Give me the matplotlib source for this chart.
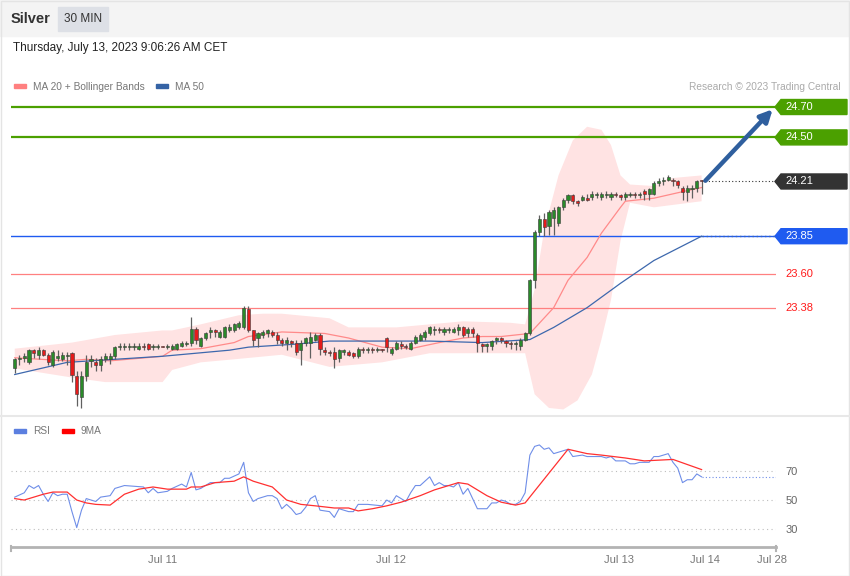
import numpy as np
import matplotlib.pyplot as plt
from matplotlib.patches import Rectangle, Polygon

plt.rcParams['font.family'] = ['Liberation Sans', 'DejaVu Sans']

# ---- data (30 min silver bars) ----
opens = [22.98, 23.04, 23.05, 23.02, 23.10, 23.07, 23.10, 23.07, 23.00, 23.05,
         23.04, 23.06, 23.08, 22.93, 22.79, 22.93, 23.03, 23.02, 23.00, 23.04,
         23.04, 23.06, 23.12, 23.12, 23.12, 23.12, 23.11, 23.13, 23.14, 23.12,
         23.12, 23.13, 23.12, 23.11, 23.11, 23.13, 23.14, 23.15, 23.24, 23.13,
         23.18, 23.22, 23.23, 23.19, 23.19, 23.23, 23.23, 23.25, 23.25, 23.37,
         23.23, 23.18, 23.20, 23.21, 23.22, 23.20, 23.17, 23.15, 23.16, 23.15,
         23.10, 23.15, 23.15, 23.17, 23.20, 23.10, 23.09, 23.09, 23.05, 23.09,
         23.09, 23.08, 23.06, 23.11, 23.10, 23.11, 23.10, 23.11, 23.18, 23.08,
         23.11, 23.14, 23.13, 23.11, 23.15, 23.17, 23.19, 23.21, 23.23, 23.24,
         23.22, 23.23, 23.22, 23.23, 23.25, 23.21, 23.24, 23.20, 23.14, 23.13,
         23.13, 23.17, 23.18, 23.16, 23.15, 23.14, 23.13, 23.17, 23.21, 23.56,
         23.88, 23.96, 23.92, 23.97, 23.94, 24.04, 24.09, 24.12, 24.08, 24.09,
         24.10, 24.11, 24.12, 24.11, 24.12, 24.11, 24.13, 24.12, 24.11, 24.12,
         24.13, 24.12, 24.15, 24.13, 24.13, 24.20, 24.21, 24.22, 24.22, 24.21,
         24.17, 24.14, 24.16, 24.17, 24.22]
closes = [23.04, 23.05, 23.06, 23.10, 23.08, 23.10, 23.07, 23.02, 23.09, 23.06,
          23.07, 23.07, 22.94, 22.81, 22.93, 23.02, 23.04, 23.00, 23.04, 23.06,
          23.06, 23.12, 23.13, 23.13, 23.13, 23.13, 23.13, 23.12, 23.11, 23.13,
          23.13, 23.12, 23.13, 23.13, 23.14, 23.15, 23.15, 23.24, 23.17, 23.18,
          23.21, 23.23, 23.22, 23.22, 23.25, 23.25, 23.27, 23.28, 23.38, 23.23,
          23.17, 23.21, 23.22, 23.23, 23.20, 23.17, 23.15, 23.17, 23.15, 23.09,
          23.15, 23.18, 23.19, 23.20, 23.11, 23.09, 23.08, 23.04, 23.10, 23.10,
          23.07, 23.06, 23.11, 23.10, 23.11, 23.10, 23.11, 23.10, 23.12, 23.11,
          23.15, 23.13, 23.12, 23.15, 23.19, 23.20, 23.22, 23.25, 23.24, 23.23,
          23.24, 23.24, 23.24, 23.25, 23.20, 23.24, 23.21, 23.15, 23.13, 23.14,
          23.16, 23.18, 23.17, 23.15, 23.14, 23.15, 23.17, 23.21, 23.56, 23.88,
          23.96, 23.91, 24.01, 24.02, 24.04, 24.09, 24.12, 24.08, 24.07, 24.11,
          24.09, 24.13, 24.13, 24.13, 24.13, 24.13, 24.12, 24.11, 24.13, 24.13,
          24.12, 24.13, 24.13, 24.16, 24.20, 24.21, 24.22, 24.24, 24.21, 24.19,
          24.14, 24.17, 24.17, 24.21, 24.21]
highs = [23.05, 23.07, 23.08, 23.11, 23.11, 23.12, 23.11, 23.08, 23.10, 23.10,
         23.09, 23.09, 23.09, 22.96, 22.96, 23.07, 23.07, 23.05, 23.06, 23.08,
         23.08, 23.13, 23.15, 23.15, 23.15, 23.15, 23.15, 23.15, 23.15, 23.14,
         23.14, 23.13, 23.14, 23.14, 23.15, 23.16, 23.16, 23.32, 23.25, 23.19,
         23.22, 23.25, 23.24, 23.23, 23.26, 23.27, 23.28, 23.29, 23.39, 23.39,
         23.23, 23.22, 23.23, 23.24, 23.23, 23.22, 23.18, 23.19, 23.17, 23.17,
         23.17, 23.19, 23.22, 23.21, 23.21, 23.12, 23.10, 23.12, 23.11, 23.11,
         23.10, 23.09, 23.12, 23.12, 23.12, 23.12, 23.12, 23.11, 23.19, 23.12,
         23.16, 23.16, 23.14, 23.16, 23.20, 23.21, 23.23, 23.26, 23.26, 23.25,
         23.25, 23.25, 23.25, 23.27, 23.26, 23.25, 23.25, 23.21, 23.15, 23.15,
         23.17, 23.19, 23.19, 23.17, 23.16, 23.16, 23.18, 23.22, 23.57, 23.89,
         23.99, 24.00, 24.02, 24.04, 24.05, 24.10, 24.13, 24.13, 24.09, 24.12,
         24.13, 24.15, 24.14, 24.14, 24.15, 24.14, 24.14, 24.13, 24.14, 24.14,
         24.14, 24.14, 24.16, 24.17, 24.21, 24.23, 24.24, 24.25, 24.23, 24.22,
         24.18, 24.19, 24.19, 24.22, 24.22]
lows = [22.95, 23.00, 23.02, 23.01, 23.05, 23.04, 23.06, 23.00, 22.99, 23.03,
        23.03, 23.00, 22.89, 22.73, 22.72, 22.90, 22.99, 22.96, 22.96, 23.02,
        23.01, 23.04, 23.10, 23.10, 23.10, 23.10, 23.10, 23.10, 23.10, 23.10,
        23.11, 23.12, 23.11, 23.10, 23.10, 23.12, 23.13, 23.13, 23.14, 23.12,
        23.17, 23.18, 23.19, 23.18, 23.18, 23.22, 23.22, 23.24, 23.24, 23.22,
        23.13, 23.12, 23.18, 23.19, 23.19, 23.14, 23.13, 23.10, 23.12, 23.07,
        23.00, 23.13, 23.05, 23.16, 23.07, 23.07, 23.06, 22.98, 23.02, 23.07,
        23.06, 23.05, 23.05, 23.08, 23.08, 23.08, 23.09, 23.09, 23.09, 23.07,
        23.10, 23.11, 23.11, 23.10, 23.14, 23.16, 23.17, 23.20, 23.20, 23.21,
        23.20, 23.21, 23.21, 23.20, 23.19, 23.19, 23.19, 23.09, 23.09, 23.09,
        23.10, 23.14, 23.15, 23.12, 23.11, 23.10, 23.10, 23.16, 23.20, 23.51,
        23.85, 23.85, 23.86, 23.86, 23.92, 24.02, 24.07, 24.06, 24.05, 24.08,
        24.08, 24.09, 24.10, 24.09, 24.10, 24.09, 24.11, 24.09, 24.09, 24.11,
        24.10, 24.10, 24.09, 24.09, 24.12, 24.18, 24.19, 24.21, 24.18, 24.17,
        24.09, 24.08, 24.10, 24.14, 24.13]

# moving averages (bar index, value)
ma20_bar = [0, 11, 15, 20, 31, 33, 39, 46, 49, 56, 65, 70, 77, 83, 89, 94, 98, 102,
            108, 113, 116, 120, 123, 127, 128, 134, 141, 144]
ma20_val = [23.05, 23.03, 23.04, 23.03, 23.06, 23.10, 23.11, 23.15, 23.19, 23.22, 23.21,
            23.18, 23.12, 23.11, 23.15, 23.18, 23.19, 23.19, 23.21, 23.38, 23.56, 23.71,
            23.87, 24.04, 24.08, 24.10, 24.15, 24.17]
ma50_bar = [0, 11, 31, 45, 49, 59, 66, 87, 98, 108, 113, 120, 127, 134, 144]
ma50_val = [22.94, 23.02, 23.06, 23.10, 23.12, 23.14, 23.16, 23.16, 23.15, 23.17,
            23.25, 23.38, 23.54, 23.69, 23.85]

# bollinger bands
bb_up_bar = [0, 12, 21, 31, 33, 39, 47, 52, 56, 66, 70, 80, 87, 94, 104, 107, 109, 111,
             114, 117, 120, 123, 125, 127, 129, 134, 137, 144]
bb_up_val = [23.11, 23.15, 23.20, 23.23, 23.23, 23.27, 23.33, 23.34, 23.34, 23.31, 23.25,
             23.25, 23.27, 23.29, 23.28, 23.27, 23.50, 23.89, 24.25, 24.48, 24.57, 24.55,
             24.45, 24.25, 24.19, 24.18, 24.23, 24.25]
bb_lo_bar = [0, 12, 19, 31, 33, 39, 46, 56, 66, 77, 87, 98, 107, 109, 112, 115, 118, 121,
             123, 125, 127, 129, 134, 144]
bb_lo_val = [22.98, 22.92, 22.89, 22.89, 22.97, 23.02, 23.04, 23.07, 22.99, 23.02, 23.08,
             23.08, 23.08, 22.81, 22.72, 22.71, 22.77, 22.94, 23.17, 23.43, 23.82, 24.07,
             24.04, 24.08]

# RSI and its 9 period MA
rsi_bar = [0, 2, 3, 4, 5, 6, 7, 8, 9, 10, 11, 12, 13, 14, 15, 17, 18, 20, 21, 23, 27, 28,
           29, 30, 32, 33, 35, 36, 37, 38, 39, 41, 42, 43, 44, 45, 47, 48, 49, 50, 51, 53,
           54, 55, 56, 57, 58, 59, 60, 61, 62, 63, 64, 66, 67, 68, 70, 71, 72, 74, 77, 78,
           79, 80, 81, 82, 83, 84, 85, 87, 88, 89, 90, 91, 92, 93, 94, 95, 96, 97, 99, 100,
           101, 102, 103, 104, 105, 106, 107, 108, 109, 110, 111, 112, 113, 115, 116, 117,
           119, 120, 121, 123, 124, 125, 126, 128, 129, 130, 131, 133, 134, 135, 137, 138,
           139, 140, 141, 142, 143, 144]
rsi_val = [52, 55, 60, 58, 60, 54, 49, 55, 53, 54, 54, 42, 31, 43, 51, 49, 52, 53, 58, 60,
           59, 55, 58, 55, 56, 58, 61, 59, 69, 57, 58, 62, 62, 62, 65, 65, 68, 76, 55, 49,
           51, 53, 53, 51, 44, 47, 44, 40, 41, 45, 51, 53, 43, 42, 38, 44, 42, 42, 47, 47,
           46, 50, 48, 53, 51, 49, 55, 60, 60, 66, 60, 62, 60, 60, 59, 62, 54, 58, 51, 44,
           44, 48, 48, 50, 49, 47, 47, 49, 55, 81, 87, 88, 85, 86, 82, 84, 85, 80, 81, 80,
           80, 80, 79, 80, 77, 77, 75, 75, 76, 76, 80, 80, 82, 76, 72, 62, 64, 64, 68, 66]
rsi_ma_bar = [0, 2, 4, 6, 8, 11, 13, 15, 17, 20, 23, 26, 29, 32, 36, 37, 39, 42, 46, 48,
              50, 54, 57, 60, 63, 67, 70, 72, 75, 78, 81, 85, 88, 91, 93, 95, 99, 102, 105,
              107, 116, 120, 123, 128, 132, 138, 144]
rsi_ma_val = [51, 50, 52, 54, 55.5, 55.5, 50, 48, 47, 46.5, 54, 57.5, 59, 57.5, 57.5, 59,
              59, 62, 63, 66, 63, 59, 50, 47, 46, 44.5, 44.5, 42.5, 44, 46, 48.5, 53, 57,
              60, 62, 61, 53, 48.5, 46.5, 48, 85, 82, 81, 79, 77, 78, 71]

levels = [24.70, 24.50, 24.21, 23.85, 23.60, 23.38]
level_colors = ['#4ba000', '#4ba000', '#333333', '#1f5bf0', '#ff4d4d', '#ff4d4d']

date_ticks = [30.9, 78.9, 126.7, 144.7, 158.8]
date_labels = ['Jul 11', 'Jul 12', 'Jul 13', 'Jul 14', 'Jul 28']

assert len(opens) == len(closes) == len(highs) == len(lows)
bars = np.arange(len(opens))
o, c, h, l = map(np.array, (opens, closes, highs, lows))

# ---- figure ----
W, H = 850, 576
fig = plt.figure(figsize=(W / 100, H / 100), dpi=100)

# overlay in pixel coordinates for the frame/header
bg = fig.add_axes([0, 0, 1, 1])
bg.set_xlim(0, W)
bg.set_ylim(H, 0)
bg.axis('off')
bg.add_patch(Rectangle((0, 0), W, 36, color='#f4f4f4', zorder=0))
bg.add_patch(Rectangle((0.5, 0.5), W - 1, H - 1, fill=False, ec='#e4e4e4', lw=1))
bg.plot([0, W], [416, 416], color='#e8e8e8', lw=1.5)
bg.text(11, 19, 'Silver', fontsize=10.5, fontweight='bold', color='#333333', va='center')
bg.add_patch(Rectangle((58, 7), 50, 24, color='#dde0e6'))
bg.text(83, 19, '30 MIN', fontsize=8.5, color='#333333', va='center', ha='center')
bg.text(13, 48, 'Thursday, July 13, 2023 9:06:26 AM CET', fontsize=8.5, color='#222222', va='center')
# legends
bg.add_patch(Rectangle((14, 84), 12, 4, color='#ff8080'))
bg.text(33, 86.5, 'MA 20 + Bollinger Bands', fontsize=7.3, color='#777777', va='center')
bg.add_patch(Rectangle((156, 84), 12, 4, color='#3563a5'))
bg.text(175, 86.5, 'MA 50', fontsize=7.3, color='#777777', va='center')
bg.text(841, 86.5, 'Research \u00a9 2023 Trading Central', fontsize=7.3, color='#aaaaaa',
        va='center', ha='right')
bg.add_patch(Rectangle((14, 429), 12, 4, color='#5b7fe0'))
bg.text(33, 431.5, 'RSI', fontsize=7.3, color='#777777', va='center')
bg.add_patch(Rectangle((62, 429), 12, 4, color='#ff0000'))
bg.text(81, 431.5, '9MA', fontsize=7.3, color='#777777', va='center')

x_left, x_right = -0.78, 159.6

# ---- main price panel ----
ax = fig.add_axes([11 / W, 1 - 416 / H, (776 - 11) / W, (416 - 95) / H])
ax.patch.set_visible(False)
ax.set_xlim(x_left, x_right)
ax.set_ylim(22.667, 24.779)
ax.axis('off')

ax.fill(np.concatenate([bb_up_bar, bb_lo_bar[::-1]]),
        np.concatenate([bb_up_val, bb_lo_val[::-1]]),
        color='#ffe3e3', lw=0, zorder=1)
ax.plot(ma20_bar, ma20_val, color='#ff8a8a', lw=0.9, zorder=3)
ax.plot(ma50_bar, ma50_val, color='#3d68ad', lw=0.9, zorder=3)
ax.plot([ma50_bar[-1], x_right], [ma50_val[-1]] * 2, color='#3d68ad', lw=1, ls=(0, (1, 2)), zorder=3)

for lv, col in zip(levels, level_colors):
    if lv in (24.70, 24.50):
        ax.plot([x_left, x_right], [lv, lv], color=col, lw=1.6, zorder=2)
    elif lv == 24.21:
        ax.plot([bars[-1] + 0.7, x_right], [lv, lv], color=col, lw=0.8, ls=(0, (1, 2)), zorder=2)
    elif lv == 23.85:
        ax.plot([x_left, x_right], [lv, lv], color=col, lw=1.0, zorder=2)
    else:
        ax.plot([x_left, x_right], [lv, lv], color='#ff8080', lw=0.9, zorder=2)

# candles
up = c >= o
body_lo = np.minimum(o, c)
body_h = np.maximum(np.abs(c - o), 0.004)
ax.vlines(bars, l, h, color='#606060', lw=0.9, zorder=4)
ax.bar(bars, body_h, bottom=body_lo, width=0.65,
       color=np.where(up, '#2a8a2a', '#e41b1b'), edgecolor='#3a3a3a', lw=0.4, zorder=5)

# arrow to target
ax.annotate('', xy=(158.9, 24.685), xytext=(144.8, 24.215),
            arrowprops=dict(arrowstyle='-|>', color='#2f5f9e', lw=3.2, mutation_scale=18,
                            shrinkA=0, shrinkB=0), annotation_clip=False, zorder=6)

# level tags on the right
for lv, col in zip(levels, level_colors):
    yp = H - ax.transData.transform((0, lv))[1]
    if lv in (23.60, 23.38):
        bg.text(785, yp, '%.2f' % lv, fontsize=8, color='#ff1a1a', va='center')
    else:
        bg.add_patch(Polygon([[775, yp], [781, yp - 7.5], [847, yp - 7.5], [847, yp + 7.5], [781, yp + 7.5]],
                             closed=True, color=col, zorder=2))
        bg.text(785, yp, '%.2f' % lv, fontsize=8, color='white', va='center', zorder=3)

# ---- RSI panel ----
ax2 = fig.add_axes([11 / W, 1 - 547 / H, (776 - 11) / W, (547 - 420) / H])
ax2.patch.set_visible(False)
ax2.set_xlim(x_left, x_right)
ax2.set_ylim(17.6, 105.2)
for s in ['top', 'left', 'right']:
    ax2.spines[s].set_visible(False)
ax2.spines['bottom'].set_color('#b3b3b3')
ax2.spines['bottom'].set_linewidth(2)
for v in (30, 50, 70):
    ax2.plot([x_left, x_right], [v, v], color='#bdbdbd', lw=0.8, ls=(0, (1, 3)))
ax2.plot(rsi_bar, rsi_val, color='#6f8ee8', lw=0.8)
ax2.plot([rsi_bar[-1], x_right], [rsi_val[-1]] * 2, color='#6f8ee8', lw=0.8, ls=(0, (1, 2)))
ax2.plot(rsi_ma_bar, rsi_ma_val, color='#ff3030', lw=0.9)
ax2.yaxis.tick_right()
ax2.set_yticks([30, 50, 70])
ax2.tick_params(axis='y', length=0, pad=7, labelsize=8, labelcolor='#666666')
ax2.set_xticks(date_ticks)
ax2.set_xticklabels(date_labels)
ax2.tick_params(axis='x', length=0, pad=6, labelsize=8, labelcolor='#777777')
bg.plot([11, 11], [546, 551], color='#b3b3b3', lw=1.5)
bg.plot([776, 776], [546, 551], color='#b3b3b3', lw=1.5)

fig.savefig('out.png', dpi=100)
